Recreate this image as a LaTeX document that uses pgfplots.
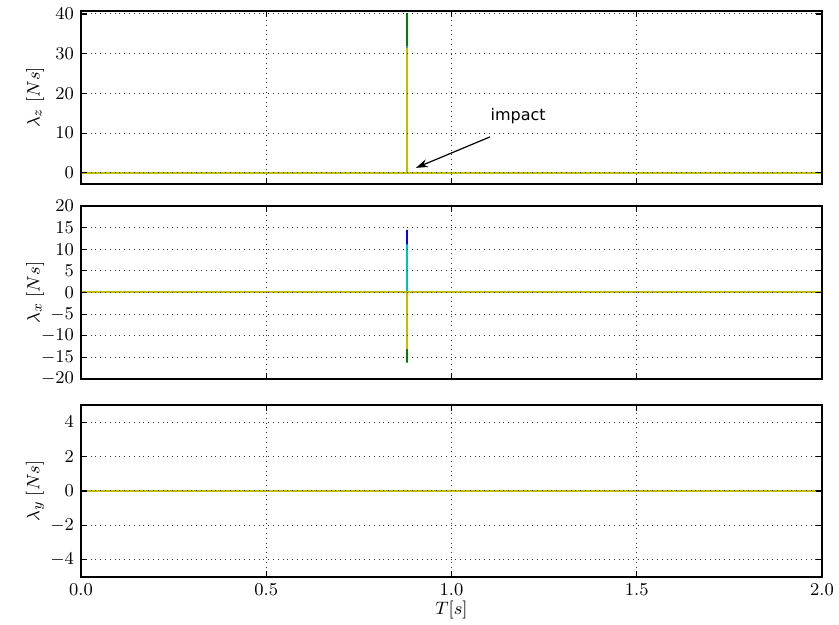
\documentclass[border=0pt]{standalone}
\usepackage{fontspec}
\usepackage{pgfplots}
\pgfplotsset{compat=1.18}
\usetikzlibrary{arrows.meta}
\newfontfamily\dejavu{DejaVu Sans}
\definecolor{mb}{rgb}{0,0,1}
\definecolor{mg}{rgb}{0,0.5,0}
\definecolor{mr}{rgb}{1,0,0}
\definecolor{mc}{rgb}{0,0.75,0.75}
\definecolor{mm}{rgb}{0.75,0,0.75}
\definecolor{my}{rgb}{0.75,0.75,0}
\pgfplotsset{lam/.style={
  width=370.5pt, height=86.5pt, scale only axis,
  xmin=0, xmax=2, xtick={0,0.5,1,1.5,2},
  grid=major, major grid style={dotted, black!80, line width=0.5pt},
  tick align=inside, axis on top,
  axis line style={line width=0.8pt},
  tick style={black, line width=0.6pt}, major tick length=3pt,
  ylabel style={at={(axis description cs:-0.062,0.5)}, anchor=center},
  xlabel style={yshift=4pt},
  ticklabel style={font=\fontsize{9.5}{11}\selectfont},
  label style={font=\fontsize{9.5}{11}\selectfont},
  xticklabel style={/pgf/number format/fixed, /pgf/number format/fixed zerofill, /pgf/number format/precision=1},
  every axis plot/.append style={line width=1pt, line join=bevel},
}}
\begin{document}
\begin{tikzpicture}
\path[use as bounding box] (0,0) rectangle (419.5pt,312.5pt);
% top: lambda_z
\begin{axis}[lam, at={(40.5pt,220.5pt)}, anchor=south west,
  ymin=-2.8, ymax=40.75, ytick={0,10,20,30,40}, xticklabels={},
  ylabel={$\lambda_z\;[N s]$}]
\addplot[mb] coordinates {(0,0) (0.88,0) (0.88,31.5) (0.88,0) (2,0)};
\addplot[mg] coordinates {(0,0) (0.88,0) (0.88,40.2) (0.88,0) (2,0)};
\addplot[mr] coordinates {(0,0) (0.88,0) (0.88,31.6) (0.88,0) (2,0)};
\addplot[mc] coordinates {(0,0) (0.88,0) (0.88,31.9) (0.88,0) (2,0)};
\addplot[mm] coordinates {(0,0) (0.88,0) (0.88,31.6) (0.88,0) (2,0)};
\addplot[my] coordinates {(0,0) (0.88,0) (0.88,31.5) (0.88,0) (2,0)};
\draw[-{Stealth[length=6pt,width=4pt]}, line width=0.6pt] (axis cs:1.104,9.06) -- (axis cs:0.904,1.26);
\node[font=\dejavu\fontsize{8}{9.6}\selectfont, anchor=center] at (axis cs:1.18,14.3) {impact};
\end{axis}
% middle: lambda_x
\begin{axis}[lam, at={(40.5pt,123pt)}, anchor=south west,
  ymin=-20, ymax=20, ytick={-20,-15,...,20}, xticklabels={},
  ylabel={$\lambda_x\;[N s]$}]
\addplot[mb] coordinates {(0,0) (0.88,0) (0.88,14.5) (0.88,0) (2,0)};
\addplot[mg] coordinates {(0,0) (0.88,0) (0.88,-16.2) (0.88,0) (2,0)};
\addplot[mr] coordinates {(0,0) (0.88,0) (0.88,11.0) (0.88,0) (2,0)};
\addplot[mc] coordinates {(0,0) (0.88,0) (0.88,11.1) (0.88,0) (2,0)};
\addplot[mm] coordinates {(0,0) (0.88,0) (0.88,-13.0) (0.88,0) (2,0)};
\addplot[my] coordinates {(0,0) (0.88,0) (0.88,-13.1) (0.88,0) (2,0)};
\end{axis}
% bottom: lambda_y
\begin{axis}[lam, at={(40.5pt,24pt)}, anchor=south west, height=86pt,
  ymin=-5, ymax=5, ytick={-4,-2,0,2,4},
  ylabel={$\lambda_y\;[N s]$}, xlabel={$T[s]$}]
\addplot[mb] coordinates {(0,0) (2,0)};
\addplot[mg] coordinates {(0,0) (2,0)};
\addplot[mr] coordinates {(0,0) (2,0)};
\addplot[mc] coordinates {(0,0) (2,0)};
\addplot[mm] coordinates {(0,0) (2,0)};
\addplot[my] coordinates {(0,0) (2,0)};
\end{axis}
\end{tikzpicture}
\end{document}
